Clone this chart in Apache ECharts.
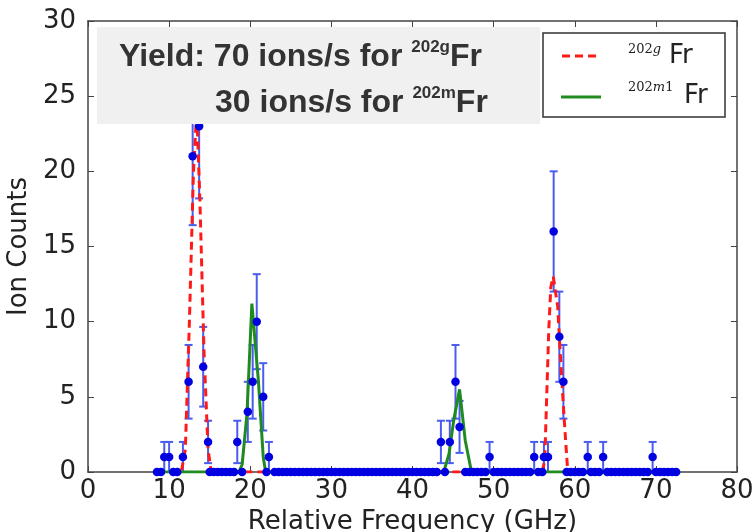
<!DOCTYPE html>
<html><head><meta charset="utf-8">
<script src="https://cdn.jsdelivr.net/npm/echarts@6/dist/echarts.min.js"></script>
<style>html,body{margin:0;padding:0;background:#fff}#c{width:755px;height:532px}</style>
</head><body><div id="c"></div>
<script>
// Measured points with non-zero counts
const hitFreq   = [9.4, 10.0, 11.7, 12.4, 12.9, 13.7, 14.2, 14.8, 18.4, 19.7, 20.3, 20.8, 21.6, 22.3, 43.5, 44.6, 45.3, 45.8, 49.5, 55.0, 56.2, 56.7, 57.4, 58.1, 58.6, 61.6, 63.5, 69.6];
const hitCounts = [1, 1, 1, 6, 21, 23, 7, 2, 2, 4, 6, 10, 5, 1, 2, 2, 6, 3, 1, 1, 1, 1, 16, 9, 6, 1, 1, 1];
const hitErr    = [1, 1, 1, 2.45, 4.58, 4.8, 2.65, 1.41, 1.41, 2, 2.45, 3.16, 2.24, 1, 1.41, 1.41, 2.45, 1.73, 1, 1, 1, 1, 4, 3, 2.45, 1, 1, 1];
// Scan points with zero counts
const zeroFreq = [8.5, 9.0, 10.5, 11.0, 15.0, 15.5, 16.0, 16.5, 17.0, 17.5, 18.0, 19.0, 22.0, 23.0, 23.5, 24.0, 24.5, 25.0, 25.5, 26.0, 26.5, 27.0, 27.5, 28.0, 28.5, 29.0, 29.5, 30.0, 30.5, 31.0, 31.5, 32.0, 32.5, 33.0, 33.5, 34.0, 34.5, 35.0, 35.5, 36.0, 36.5, 37.0, 37.5, 38.0, 38.5, 39.0, 39.5, 40.0, 40.5, 41.0, 41.5, 42.0, 42.5, 43.0, 44.0, 46.5, 47.0, 47.5, 48.0, 48.5, 49.0, 50.0, 50.5, 51.0, 51.5, 52.0, 52.5, 53.0, 53.5, 54.0, 54.5, 55.5, 56.0, 59.0, 59.5, 60.0, 60.5, 61.0, 62.0, 62.5, 63.0, 64.0, 64.5, 65.0, 65.5, 66.0, 66.5, 67.0, 67.5, 68.0, 68.5, 69.0, 70.0, 70.5, 71.0, 71.5, 72.0, 72.5];
// Fit curve for 202g Fr (red dashed)
const fitGFreq = [8.5, 11.5, 12.0, 12.5, 13.0, 13.4, 13.8, 14.3, 14.8, 15.2, 56.0, 56.3, 56.8, 57.05, 57.35, 57.9, 58.2, 58.7, 59.1, 59.4, 72.5];
const fitGVals = [0, 0, 1.5, 10, 20, 24, 18, 8, 1.5, 0, 0, 0.8, 9.5, 12.3, 13, 11, 8, 3.5, 0.3, 0, 0];
// Fit curve for 202m1 Fr (green)
const fitMFreq = [8.5, 18.6, 19.0, 19.6, 20.2, 21.0, 21.6, 21.9, 43.5, 43.9, 44.5, 45.1, 45.8, 46.5, 47.2, 47.5, 72.5];
const fitMVals = [0, 0, 0.5, 3.9, 11.2, 6.1, 1.0, 0, 0, 0.1, 1.2, 3.5, 5.5, 2.1, 0.2, 0, 0];

const xTickLabels = ['0','10','20','30','40','50','60','70','80'];
const yTickLabels = ['0','5','10','15','20','25','30'];

const chart = echarts.init(document.getElementById('c'), null, {renderer:'canvas'});
const axisCol = '#444';
const font = 'DejaVu Sans';
const pts = hitFreq.map((f,i)=>[f, hitCounts[i]]).concat(zeroFreq.map(f=>[f,0]));
const errData = hitFreq.map((f,i)=>[f, hitCounts[i]-hitErr[i], hitCounts[i]+hitErr[i]]);

const option = {
  animation:false,
  backgroundColor:'#fff',
  grid:{left:88, top:21, width:649, height:451, containLabel:false, outerBoundsMode:'none'},
  xAxis:[{
    type:'value', min:0, max:80, interval:10, position:'bottom',
    axisLine:{show:true, onZero:false, lineStyle:{color:axisCol, width:1.5}},
    axisTick:{show:true, inside:true, length:6, lineStyle:{color:axisCol}},
    axisLabel:{fontFamily:font, fontSize:26, color:'#222', margin:6,
      formatter:(v)=>xTickLabels[Math.round(v/10)]},
    splitLine:{show:false},
    name:'Relative Frequency (GHz)', nameLocation:'middle', nameGap:37,
    nameTextStyle:{fontFamily:font, fontSize:26, color:'#222'}
  },{
    type:'value', min:0, max:80, interval:10, position:'top',
    axisLine:{show:true, onZero:false, lineStyle:{color:axisCol, width:1.5}},
    axisTick:{show:true, inside:true, length:6, lineStyle:{color:axisCol}},
    axisLabel:{show:false}, splitLine:{show:false}
  }],
  yAxis:[{
    type:'value', min:0, max:30, interval:5, position:'left',
    axisLine:{show:true, onZero:false, lineStyle:{color:axisCol, width:1.5}},
    axisTick:{show:true, inside:true, length:6, lineStyle:{color:axisCol}},
    axisLabel:{fontFamily:font, fontSize:26, color:'#222', margin:12,
      formatter:(v)=>yTickLabels[Math.round(v/5)]},
    splitLine:{show:false},
    name:'Ion Counts', nameLocation:'middle', nameGap:49,
    nameTextStyle:{fontFamily:font, fontSize:26, color:'#222'}
  },{
    type:'value', min:0, max:30, interval:5, position:'right',
    axisLine:{show:true, onZero:false, lineStyle:{color:axisCol, width:1.5}},
    axisTick:{show:true, inside:true, length:6, lineStyle:{color:axisCol}},
    axisLabel:{show:false}, splitLine:{show:false}
  }],
  series:[
    {
      type:'custom', xAxisIndex:0, yAxisIndex:0, z:2, clip:true,
      data: errData,
      encode:{x:0, y:[1,2]},
      renderItem(params, api){
        const x = api.value(0);
        const lo = api.coord([x, api.value(1)]);
        const hi = api.coord([x, api.value(2)]);
        const w = 4;
        const st = {stroke:'#4a5cf0', lineWidth:2};
        return {type:'group', children:[
          {type:'line', shape:{x1:lo[0],y1:lo[1],x2:hi[0],y2:hi[1]}, style:st},
          {type:'line', shape:{x1:lo[0]-w,y1:lo[1],x2:lo[0]+w,y2:lo[1]}, style:st},
          {type:'line', shape:{x1:hi[0]-w,y1:hi[1],x2:hi[0]+w,y2:hi[1]}, style:st}
        ]};
      }
    },
    {
      type:'line', name:'g', z:3, showSymbol:false, symbol:'none',
      data: fitGFreq.map((f,i)=>[f, fitGVals[i]]),
      lineStyle:{color:'#ff1a1a', width:3, type:[8,5]}
    },
    {
      type:'line', name:'m', z:4, showSymbol:false, symbol:'none',
      data: fitMFreq.map((f,i)=>[f, fitMVals[i]]),
      lineStyle:{color:'#1f8a1f', width:3}
    },
    {
      type:'scatter', z:5, symbolSize:8.5,
      data: pts,
      itemStyle:{color:'#0000e0', opacity:1}
    }
  ],
  graphic:[
    {type:'rect', z:100, shape:{x:97, y:27, width:443, height:97}, style:{fill:'#f0f0f0'}},
    {type:'text', z:101, x:119, y:39, style:{
      text:'{m|Yield: 70 ions/s for }{s|202g}{m|Fr}', fill:'#333',
      rich:{
        m:{fontFamily:'Liberation Sans', fontWeight:'bold', fontSize:32, lineHeight:34, verticalAlign:'bottom', fill:'#333'},
        s:{fontFamily:'Liberation Sans', fontWeight:'bold', fontSize:17, lineHeight:34, verticalAlign:'top', fill:'#333'}
      }}},
    {type:'text', z:101, x:215, y:85, style:{
      text:'{m|30 ions/s for }{s|202m}{m|Fr}', fill:'#333',
      rich:{
        m:{fontFamily:'Liberation Sans', fontWeight:'bold', fontSize:32, lineHeight:34, verticalAlign:'bottom', fill:'#333'},
        s:{fontFamily:'Liberation Sans', fontWeight:'bold', fontSize:17, lineHeight:34, verticalAlign:'top', fill:'#333'}
      }}},
    {type:'rect', z:100, shape:{x:543, y:33, width:182, height:84}, style:{fill:'#fff', stroke:'#333', lineWidth:1.5}},
    {type:'line', z:101, shape:{x1:562, y1:56, x2:600, y2:56}, style:{stroke:'#ff1a1a', lineWidth:3, lineDash:[8,5]}},
    {type:'line', z:101, shape:{x1:561, y1:97, x2:601, y2:97}, style:{stroke:'#1f8a1f', lineWidth:3}},
    {type:'text', z:101, x:628, y:50, style:{
      text:'{n|202}{i|g}', verticalAlign:'middle',
      rich:{n:{fontFamily:'DejaVu Serif', fontSize:13, fill:'#222'}, i:{fontFamily:'DejaVu Serif', fontStyle:'italic', fontSize:13, fill:'#222'}}}},
    {type:'text', z:101, x:669, y:56, style:{text:'Fr', fontFamily:font, fontSize:26, fill:'#222', verticalAlign:'middle'}},
    {type:'text', z:101, x:628, y:88, style:{
      text:'{n|202}{i|m}{n|1}', verticalAlign:'middle',
      rich:{n:{fontFamily:'DejaVu Serif', fontSize:13, fill:'#222'}, i:{fontFamily:'DejaVu Serif', fontStyle:'italic', fontSize:13, fill:'#222'}}}},
    {type:'text', z:101, x:684, y:96, style:{text:'Fr', fontFamily:font, fontSize:26, fill:'#222', verticalAlign:'middle'}}
  ]
};
chart.setOption(option);
</script>
</body></html>
